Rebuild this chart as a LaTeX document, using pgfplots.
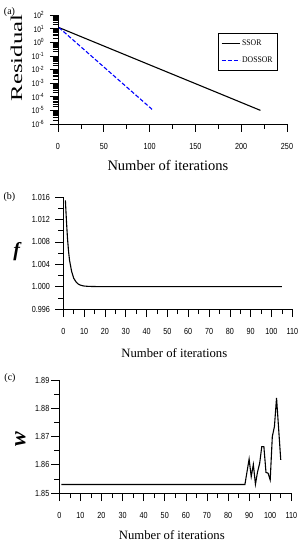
\documentclass[border=0pt]{standalone}
\usepackage{pgfplots}
\pgfplotsset{compat=1.18}
\usepackage{fontspec}
\setmainfont{Liberation Serif}
\newfontfamily\ticksf[FakeStretch=0.82]{Liberation Sans}
\newfontfamily\widefont[FakeStretch=1.5]{Liberation Serif}
\newfontfamily\legfont[FakeStretch=0.9]{Liberation Serif}

\pgfplotsset{
  mystyle/.style={
    scale only axis,
    axis x line*=bottom, axis y line*=left,
    axis line style={line width=0.8pt, -},
    tick align=outside,
    major tick length=8pt, minor tick length=5pt,
    every tick/.style={black, line width=0.6pt},
    tick label style={font=\ticksf\fontsize{8.8}{9}\selectfont},
    xticklabel style={anchor=center, yshift=-14.7pt},
    yticklabel style={anchor=east},
    clip=false,
  }
}

\begin{document}
\begin{tikzpicture}
\useasboundingbox (0pt,0pt) rectangle (300pt,550pt);

% ---------------- (a)
\begin{axis}[mystyle,
  at={(58pt,426pt)}, anchor=south west, width=229pt, height=109pt,
  xmin=0, xmax=250, ymode=log, log basis y=10, ymin=1e-6, ymax=1e2,
  xtick={0,50,100,150,200,250}, xticklabels={0,50,100,150,200,250},
  minor xtick={25,75,125,175,225},
  ytick={1e-6,1e-5,1e-4,1e-3,1e-2,1e-1,1,10,100},
  yticklabels={10\textsuperscript{-6},10\textsuperscript{-5},10\textsuperscript{-4},10\textsuperscript{-3},10\textsuperscript{-2},10\textsuperscript{-1},10\textsuperscript{0},10\textsuperscript{1},10\textsuperscript{2}},
  minor ytick={2e-6,3e-6,4e-6,5e-6,6e-6,7e-6,8e-6,9e-6,
               2e-5,3e-5,4e-5,5e-5,6e-5,7e-5,8e-5,9e-5,
               2e-4,3e-4,4e-4,5e-4,6e-4,7e-4,8e-4,9e-4,
               2e-3,3e-3,4e-3,5e-3,6e-3,7e-3,8e-3,9e-3,
               0.02,0.03,0.04,0.05,0.06,0.07,0.08,0.09,
               0.2,0.3,0.4,0.5,0.6,0.7,0.8,0.9,
               2,3,4,5,6,7,8,9,20,30,40,50,60,70,80,90},
  yticklabel style={font=\ticksf\fontsize{8}{9}\selectfont, xshift=-2.3pt},
  xlabel={\fontsize{14.5}{16}\selectfont Number of iterations},
  xlabel style={at={(axis description cs:0.48,-0.385)}, anchor=center},
  ylabel={\widefont\fontsize{16.5}{18}\selectfont Residual},
  ylabel style={at={(axis description cs:-0.181,0.606)}, anchor=center},
  legend style={at={(0.961,0.835)}, anchor=north east, draw=black, line width=0.8pt,
    font=\legfont\fontsize{8.6}{9}\selectfont, inner xsep=3pt, inner ysep=4.5pt,
    row sep=5.5pt, cells={anchor=west}},
  legend image code/.code={\draw[#1] (0pt,0pt) -- (18pt,0pt);},
]
\addplot[black, line width=1.1pt] coordinates {(1,12) (50,0.53) (100,0.022) (150,9.2e-4) (221,1e-5)};
\addlegendentry{SSOR}
\addplot[blue, line width=1.1pt, dash pattern=on 4pt off 2pt] coordinates {(1,12) (50,0.0154) (104,1e-5)};
\addlegendentry{DOSSOR}
\end{axis}

% ---------------- (b)
\begin{axis}[mystyle,
  at={(63.3pt,241pt)}, anchor=south west, width=229pt, height=112pt,
  xmin=0, xmax=110, ymin=0.996, ymax=1.016,
  xtick={0,10,20,30,40,50,60,70,80,90,100,110},
  xticklabels={0,10,20,30,40,50,60,70,80,90,100,110},
  minor x tick num=1,
  ytick={0.996,1.000,1.004,1.008,1.012,1.016},
  yticklabels={0.996,1.000,1.004,1.008,1.012,1.016},
  minor y tick num=1,
  yticklabel style={xshift=-1.8pt},
  xlabel={\fontsize{12.7}{14}\selectfont Number of iterations},
  xlabel style={at={(axis description cs:0.485,-0.393)}, anchor=center},
  ylabel={\fontsize{20}{22}\selectfont\bfseries\itshape f},
  ylabel style={at={(axis description cs:-0.203,0.513)}, anchor=center, rotate=-90},
]
\addplot[black, line width=1.1pt] coordinates {
 (1,1.0154) (1.5,1.0118) (2,1.0087) (2.5,1.0064) (3,1.0047) (4,1.0027) (5,1.0015)
 (6,1.0009) (7,1.0005) (8,1.0003) (9,1.00018) (10,1.0001) (12,1.00004)
 (15,1.00001) (20,1.0) (105,1.0)};
\end{axis}

% ---------------- (c)
\begin{axis}[mystyle,
  at={(59.3pt,57pt)}, anchor=south west, width=232pt, height=113pt,
  xmin=0, xmax=110, ymin=1.85, ymax=1.89,
  xtick={0,10,20,30,40,50,60,70,80,90,100,110},
  xticklabels={0,10,20,30,40,50,60,70,80,90,100,110},
  minor x tick num=1,
  ytick={1.85,1.86,1.87,1.88,1.89},
  yticklabels={1.85,1.86,1.87,1.88,1.89},
  minor y tick num=1,
  yticklabel style={xshift=1.5pt},
  xlabel={\fontsize{12.7}{14}\selectfont Number of iterations},
  xlabel style={at={(axis description cs:0.485,-0.372)}, anchor=center},
  ylabel={\fontsize{22}{24}\selectfont\bfseries\itshape w},
  ylabel style={at={(axis description cs:-0.168,0.478)}, anchor=center},
]
\addplot[black, line width=1.1pt] coordinates {
 (1,1.853) (88,1.853) (90,1.8620) (91,1.8558) (92,1.8601) (93,1.8531) (94,1.8575)
 (95,1.8605) (96,1.8664) (97,1.8664) (98,1.8573) (99,1.8570) (100,1.8546)
 (101,1.8700) (102,1.8735) (103,1.8837) (104,1.8727) (105,1.8617)};
\end{axis}

\node[font=\fontsize{10}{12}\selectfont] at (9.5pt,537.5pt) {(a)};
\node[font=\fontsize{10}{12}\selectfont] at (9.5pt,353pt) {(b)};
\node[font=\fontsize{10}{12}\selectfont] at (10pt,172pt) {(c)};
\end{tikzpicture}
\end{document}
